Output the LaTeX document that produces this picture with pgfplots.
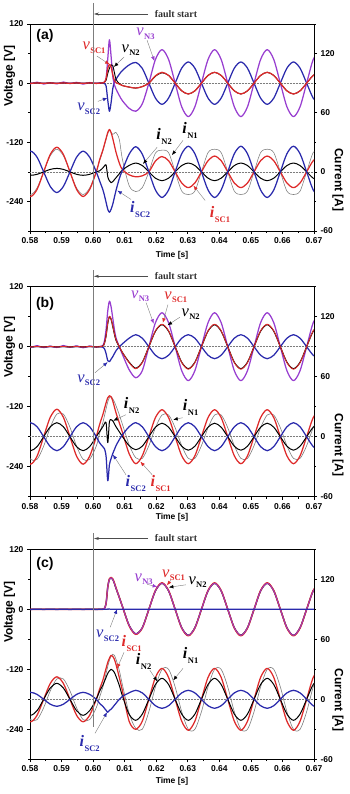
\documentclass[border=0pt]{standalone}
\usepackage{pgfplots}
\pgfplotsset{compat=1.18}
\usepackage{pgfplotstable}
\usepackage{fontspec}
\setmainfont{Liberation Sans}
\newfontfamily\lser{Liberation Serif}
\usetikzlibrary{arrows.meta}

\definecolor{cred}{RGB}{222,42,42}
\definecolor{cblue}{RGB}{42,42,172}
\definecolor{cpurp}{RGB}{152,62,208}
\definecolor{cgray}{RGB}{125,125,125}

% curve labels: italic symbol with a small bold subscript
\newcommand{\vlab}[2]{\textcolor{#1}{{\lser\itshape\fontsize{16.5}{16}\selectfont v}\kern0.4pt\raisebox{-3.8pt}{\lser\bfseries\fontsize{8.5}{8}\selectfont #2}}}
\newcommand{\ilab}[2]{\textcolor{#1}{{\lser\bfseries\itshape\fontsize{16}{16}\selectfont i}\kern0.6pt\raisebox{-4.8pt}{\lser\bfseries\fontsize{8.5}{8}\selectfont #2}}}
\newcommand{\pointer}[3]{\draw[cgray, line width=0.4pt, -{Latex[length=4.5pt,width=3.6pt,color=#1]}] #2 -- #3;}
\tikzset{zeroline/.style={cgray, line width=0.5pt, densely dotted}}

% columns: time, v_SC2, v_N3, v_N2, v_SC1, i_N1, i_SC1, i_N2, i_SC2
\pgfplotstableread{
t vSC2 vN3 vN2 vSC1 iN1 iSC1 iN2 iSC2
0.57808 0.4 1.5 0.5 0.5 -16.3 -17.7 -2.5 14.8
0.58017 -0.4 -1.2 -0.5 -0.5 -23 -25 -3.5 21
0.58225 0.4 2.0 0.5 0.5 -16.3 -17.7 -2.5 14.8
0.58433 -0.4 -1.8 -0.5 -0.5 0 0 0 0
0.58642 0.4 1.0 0.5 0.5 16.3 17.7 2.5 -14.8
0.58850 -0.4 -1.5 -0.5 -0.5 23 25 3.5 -21
0.59058 0.4 2.2 0.5 0.5 16.3 17.7 2.5 -14.8
0.59267 -0.4 -1.0 -0.5 -0.5 0 0 0 0
0.59475 0.4 1.6 0.5 0.5 -16.3 -17.7 -2.5 14.8
0.59683 -0.4 -2.0 -0.5 -0.5 -23 -25 -3.5 21
0.59892 0.4 1.2 0.5 0.5 -16.3 -17.7 -2.5 14.8
0.60100 -0.4 -0.8 -0.5 -0.5 0 0 0 0
0.60204 0 0.5 0 0 11 12 1 -9
0.60308 0 1 0.5 0.5 21 22 4 -18
0.60360 -1 2 2 2 27 28 6 -24
0.60412 -6 10 6 10 33 34 7 -31
0.60465 -35 50 20 30 39 40 -5 -38
0.60517 -57 88 30 38 42 43 -9 -41
0.60569 -40 55 37 33 40 40 -11 -38
0.60621 -12 15 36 18 38 34 -10 -33
0.60673 2 -3 22 6 39 27 -8 -26
0.60725 8 -12 8 1 40 20 -6 -19
0.60829 18 -25 -1 -2 33 9 -2 -7
0.60933 26 -36 -5 -5 12 2 2 2
0.61142 37 -51 -8 -8 -14 -3 6.5 18
0.61350 42 -57 -10 -10 -20 -5 9 25.5
0.61558 30 -42 -7 -7 -16 -4 6.4 18
0.61767 0 0 0 0 0 0 0 0
0.61975 -30.4 48 14 15 19 11 -6.4 -18.4
0.62183 -43 68 21 22 22 15.5 -9 -26
0.62392 -30.4 48 15.6 15.6 19.5 11.3 -6.4 -18.4
0.62600 0 0 0 0 0 0 0 0
0.62808 30.4 -48 -15.6 -15.6 -19.5 -11.3 6.4 18.4
0.63017 43 -68 -22 -22 -23 -16 9 26
0.63225 30.4 -48 -15.6 -15.6 -19.5 -11.3 6.4 18.4
0.63433 0 0 0 0 0 0 0 0
0.63642 -30.4 48 15.6 15.6 19.5 11.3 -6.4 -18.4
0.63850 -43 68 22 22 23 16 -9 -26
0.64058 -30.4 48 15.6 15.6 19.5 11.3 -6.4 -18.4
0.64267 0 0 0 0 0 0 0 0
0.64475 30.4 -48 -15.6 -15.6 -19.5 -11.3 6.4 18.4
0.64683 43 -68 -22 -22 -23 -16 9 26
0.64892 30.4 -48 -15.6 -15.6 -19.5 -11.3 6.4 18.4
0.65100 0 0 0 0 0 0 0 0
0.65308 -30.4 48 15.6 15.6 19.5 11.3 -6.4 -18.4
0.65517 -43 68 22 22 23 16 -9 -26
0.65725 -30.4 48 15.6 15.6 19.5 11.3 -6.4 -18.4
0.65933 0 0 0 0 0 0 0 0
0.66142 30.4 -48 -15.6 -15.6 -19.5 -11.3 6.4 18.4
0.66350 43 -68 -22 -22 -23 -16 9 26
0.66558 30.4 -48 -15.6 -15.6 -19.5 -11.3 6.4 18.4
0.66767 0 0 0 0 0 0 0 0
0.66975 -30.4 48 15.6 15.6 19.5 11.3 -6.4 -18.4
0.67183 -43 68 22 22 23 16 -9 -26
}\tabA

\pgfplotstableread{
t vSC2 vN3 vN2 vSC1 iN1 iSC1 iN2 iSC2
0.57808 0.4 1.5 0.5 0.5 -9.4 -19.4 -9.9 9.9
0.58017 -0.4 -1.2 -0.5 -0.5 -22.6 -27.5 -14 14
0.58225 0.4 2.0 0.5 0.5 -22.6 -19.4 -9.9 9.9
0.58433 -0.4 -1.8 -0.5 -0.5 -9.4 0 0 0
0.58642 0.4 1.0 0.5 0.5 9.4 19.4 9.9 -9.9
0.58850 -0.4 -1.5 -0.5 -0.5 22.6 27.5 14 -14
0.59058 0.4 2.2 0.5 0.5 22.6 19.4 9.9 -9.9
0.59267 -0.4 -1.0 -0.5 -0.5 9.4 0 0 0
0.59475 0.4 1.6 0.5 0.5 -9.4 -19.4 -9.9 9.9
0.59683 -0.4 -2.0 -0.5 -0.5 -22.6 -27.5 -14 14
0.59892 0.4 1.2 0.5 0.5 -22.6 -19.4 -9.9 9.9
0.60100 -0.4 -0.8 -0.5 -0.5 -9.4 0 0 0
0.60204 0 0.5 0 0 3 12 5 -6
0.60308 -1 2 1 1 14 22 10 -10
0.60360 -4 12 7 7 21 28 13 -12
0.60412 -14 35 22 22 28 34 14 -20
0.60465 -28 72 47 48 35 39 -6 -44
0.60517 -30 91 60 61 39 41 15 -28
0.60569 -25 80 55 56 40 40 17 -22
0.60621 -20 58 41 42 38 36 16 -17
0.60673 -14 35 26 27 35 30 13 -13
0.60725 -8 18 13 14 31 24 10 -9
0.60829 0 0 0 0 22 14 5 -3
0.60933 6 -16 -12 -12 12 4 0 2
0.61142 17 -46 -31 -32 -8 -17 -9 10
0.61350 24 -62 -43 -44 -21 -27 -13 14
0.61558 17 -48 -31.1 -31.8 -21.7 -19.1 -9.5 9.9
0.61767 0 0 0 0 -9 0 0 0
0.61975 -17 48 31.1 31.8 9 19.1 9.5 -9.9
0.62183 -24 68 44 45 21.7 27 13.5 -14
0.62392 -17 48 31.1 31.8 21.7 19.1 9.5 -9.9
0.62600 0 0 0 0 9 0 0 0
0.62808 17 -48 -31.1 -31.8 -9 -19.1 -9.5 9.9
0.63017 24 -68 -44 -45 -21.7 -27 -13.5 14
0.63225 17 -48 -31.1 -31.8 -21.7 -19.1 -9.5 9.9
0.63433 0 0 0 0 -9 0 0 0
0.63642 -17 48 31.1 31.8 9 19.1 9.5 -9.9
0.63850 -24 68 44 45 21.7 27 13.5 -14
0.64058 -17 48 31.1 31.8 21.7 19.1 9.5 -9.9
0.64267 0 0 0 0 9 0 0 0
0.64475 17 -48 -31.1 -31.8 -9 -19.1 -9.5 9.9
0.64683 24 -68 -44 -45 -21.7 -27 -13.5 14
0.64892 17 -48 -31.1 -31.8 -21.7 -19.1 -9.5 9.9
0.65100 0 0 0 0 -9 0 0 0
0.65308 -17 48 31.1 31.8 9 19.1 9.5 -9.9
0.65517 -24 68 44 45 21.7 27 13.5 -14
0.65725 -17 48 31.1 31.8 21.7 19.1 9.5 -9.9
0.65933 0 0 0 0 9 0 0 0
0.66142 17 -48 -31.1 -31.8 -9 -19.1 -9.5 9.9
0.66350 24 -68 -44 -45 -21.7 -27 -13.5 14
0.66558 17 -48 -31.1 -31.8 -21.7 -19.1 -9.5 9.9
0.66767 0 0 0 0 -9 0 0 0
0.66975 -17 48 31.1 31.8 9 19.1 9.5 -9.9
0.67183 -24 68 44 45 21.7 27 13.5 -14
}\tabB

\pgfplotstableread{
t vSC2 vN3 vN2 vSC1 iN1 iSC1 iN2 iSC2
0.57808 0.3 0 0 0 -8.4 -15.9 -11.3 4.9
0.58017 -0.3 0 0 0 -20.3 -22.5 -16 7
0.58225 0.3 0 0 0 -20.3 -15.9 -11.3 4.9
0.58433 -0.3 0 0 0 -8.4 0 0 0
0.58642 0.3 0 0 0 8.4 15.9 11.3 -4.9
0.58850 -0.3 0 0 0 20.3 22.5 16 -7
0.59058 0.3 0 0 0 20.3 15.9 11.3 -4.9
0.59267 -0.3 0 0 0 8.4 0 0 0
0.59475 0.3 0 0 0 -8.4 -15.9 -11.3 4.9
0.59683 -0.3 0 0 0 -20.3 -22.5 -16 7
0.59892 0.3 0 0 0 -20.3 -15.9 -11.3 4.9
0.60100 -0.3 0 0 0 -8.4 0 0 0
0.60204 0 0 0 0 2 10 8 -4
0.60308 0 0 0 0 12 19 14 -7
0.60360 0 2 2 2 19 25 18 -9
0.60412 0 12 12 12 26 31 22 -11
0.60465 0.5 45 45 45 33 37 26 -13
0.60517 0.5 60 60 61 39 41 28.5 -11
0.60569 0 63 63 64 43 44 30 -10
0.60621 0 60 60 61 45 43 29 -8
0.60673 0 52 52 53 44 40 27 -6
0.60725 0 42 42 43 40 35 23 -4
0.60829 0 24 24 24 29 22 14 0
0.60933 0 5 5 5 14 8 3 3
0.61142 0 -32 -32 -33 -14 -22 -15 6.5
0.61350 0 -49 -49 -50 -29 -30 -21 9
0.61558 0 -36.8 -36.8 -37.5 -30 -21.9 -14.8 6.4
0.61767 0 0 0 0 -12.4 0 0 0
0.61975 0 36.8 36.8 37.5 12.4 21.9 14.8 -6.4
0.62183 0 52 52 53 30 31 21 -9
0.62392 0 36.8 36.8 37.5 30 21.9 14.8 -6.4
0.62600 0 0 0 0 12.4 0 0 0
0.62808 0 -36.8 -36.8 -37.5 -12.4 -21.9 -14.8 6.4
0.63017 0 -52 -52 -53 -30 -31 -21 9
0.63225 0 -36.8 -36.8 -37.5 -30 -21.9 -14.8 6.4
0.63433 0 0 0 0 -12.4 0 0 0
0.63642 0 36.8 36.8 37.5 12.4 21.9 14.8 -6.4
0.63850 0 52 52 53 30 31 21 -9
0.64058 0 36.8 36.8 37.5 30 21.9 14.8 -6.4
0.64267 0 0 0 0 12.4 0 0 0
0.64475 0 -36.8 -36.8 -37.5 -12.4 -21.9 -14.8 6.4
0.64683 0 -52 -52 -53 -30 -31 -21 9
0.64892 0 -36.8 -36.8 -37.5 -30 -21.9 -14.8 6.4
0.65100 0 0 0 0 -12.4 0 0 0
0.65308 0 36.8 36.8 37.5 12.4 21.9 14.8 -6.4
0.65517 0 52 52 53 30 31 21 -9
0.65725 0 36.8 36.8 37.5 30 21.9 14.8 -6.4
0.65933 0 0 0 0 12.4 0 0 0
0.66142 0 -36.8 -36.8 -37.5 -12.4 -21.9 -14.8 6.4
0.66350 0 -52 -52 -53 -30 -31 -21 9
0.66558 0 -36.8 -36.8 -37.5 -30 -21.9 -14.8 6.4
0.66767 0 0 0 0 -12.4 0 0 0
0.66975 0 36.8 36.8 37.5 12.4 21.9 14.8 -6.4
0.67183 0 52 52 53 30 31 21 -9
}\tabC

\pgfplotsset{
  panelbase/.style={scale only axis, width=284pt, xmin=0.58, xmax=0.67,
    tick align=outside, major tick length=3pt, minor tick length=1.8pt,
    tick label style={font=\bfseries\fontsize{8.5}{10}\selectfont},
    /pgf/number format/assume math mode=true,
    axis line style={line width=0.7pt},
    every tick/.append style={line width=0.6pt, black}},
  vaxis/.style={panelbase, ymin=-300, ymax=120, tick pos=left,
    xtick={0.58,0.59,0.60,0.61,0.62,0.63,0.64,0.65,0.66,0.67},
    xticklabels={0.58,0.59,0.60,0.61,0.62,0.63,0.64,0.65,0.66,0.67},
    minor xtick={0.585,0.595,0.605,0.615,0.625,0.635,0.645,0.655,0.665},
    ytick={-240,-120,0,120}, yticklabels={-240,-120,0,120},
    minor ytick={-300,-180,-60,60}},
  iaxis/.style={panelbase, ymin=-60, ymax=150, axis y line*=right, axis x line=none,
    ytick={-60,0,60,120}, yticklabels={-60,0,60,120},
    minor ytick={-30,30,90,150}},
  cv/.style={smooth, line width=1.25pt, line join=round},
}

\begin{document}
\begin{tikzpicture}
\path[use as bounding box] (0pt,0pt) rectangle (349pt,-794pt);

% ---------------- panel (a) ----------------
\begin{axis}[vaxis, at={(30pt,-231pt)}, anchor=south west, height=207pt]
  \draw[zeroline] (axis cs:0.58,0) -- (axis cs:0.67,0);
  \addplot[cv, cblue] table[x=t, y=vSC2] {\tabA};
  \addplot[cv, cpurp] table[x=t, y=vN3] {\tabA};
  \addplot[cv, black, line width=0.9pt] table[x=t, y=vN2] {\tabA};
  \addplot[cv, cred] table[x=t, y=vSC1] {\tabA};
  \node at (axis cs:0.6003,71) {\vlab{cred}{SC1}};
  \pointer{cred}{(axis cs:0.6012,55)}{(axis cs:0.6052,38)}
  \node at (axis cs:0.6119,67) {\vlab{black}{N2}};
  \pointer{black}{(axis cs:0.6098,53)}{(axis cs:0.6066,33)}
  \node at (axis cs:0.6166,100) {\vlab{cpurp}{N3}};
  \pointer{cpurp}{(axis cs:0.6171,87)}{(axis cs:0.6194,45)}
  \node at (axis cs:0.5986,-52) {\vlab{cblue}{SC2}};
  \pointer{cblue}{(axis cs:0.6015,-37)}{(axis cs:0.6045,-30)}
\end{axis}
\begin{axis}[iaxis, at={(30pt,-231pt)}, anchor=south west, height=207pt]
  \draw[zeroline] (axis cs:0.58,0) -- (axis cs:0.67,0);
  \addplot[smooth, cgray, line width=0.55pt] table[x=t, y=iN1] {\tabA};
  \addplot[cv, cred] table[x=t, y=iSC1] {\tabA};
  \addplot[cv, black, line width=1pt] table[x=t, y=iN2] {\tabA};
  \addplot[cv, cblue] table[x=t, y=iSC2] {\tabA};
  \node at (axis cs:0.6225,36) {\ilab{black}{N2}};
  \pointer{black}{(axis cs:0.6203,25)}{(axis cs:0.6158,8)}
  \node at (axis cs:0.6307,42) {\ilab{black}{N1}};
  \pointer{black}{(axis cs:0.6285,32)}{(axis cs:0.6250,17)}
  \node at (axis cs:0.6149,-38) {\ilab{cblue}{SC2}};
  \pointer{cblue}{(axis cs:0.6120,-28)}{(axis cs:0.6077,-19)}
  \node at (axis cs:0.6402,-43) {\ilab{cred}{SC1}};
  \pointer{cred}{(axis cs:0.6355,-29)}{(axis cs:0.6318,-14)}
\end{axis}

% ---------------- panel (b) ----------------
\begin{axis}[vaxis, at={(30pt,-496.7pt)}, anchor=south west, height=210pt]
  \draw[zeroline] (axis cs:0.58,0) -- (axis cs:0.67,0);
  \addplot[cv, cblue] table[x=t, y=vSC2] {\tabB};
  \addplot[cv, cpurp] table[x=t, y=vN3] {\tabB};
  \addplot[cv, black, line width=1.1pt] table[x=t, y=vN2] {\tabB};
  \addplot[cv, cred, line width=0.9pt] table[x=t, y=vSC1] {\tabB};
  \node at (axis cs:0.6149,101) {\vlab{cpurp}{N3}};
  \pointer{cpurp}{(axis cs:0.6168,88)}{(axis cs:0.6192,46)}
  \node at (axis cs:0.6262,99) {\vlab{cred}{SC1}};
  \pointer{cred}{(axis cs:0.6237,84)}{(axis cs:0.6221,48)}
  \node at (axis cs:0.6309,65) {\vlab{black}{N2}};
  \pointer{black}{(axis cs:0.6275,59)}{(axis cs:0.6236,43)}
  \node at (axis cs:0.5986,-67) {\vlab{cblue}{SC2}};
  \pointer{cblue}{(axis cs:0.6006,-52)}{(axis cs:0.6046,-31)}
\end{axis}
\begin{axis}[iaxis, at={(30pt,-496.7pt)}, anchor=south west, height=210pt]
  \draw[zeroline] (axis cs:0.58,0) -- (axis cs:0.67,0);
  \addplot[smooth, cgray, line width=0.6pt] table[x=t, y=iN1] {\tabB};
  \addplot[cv, cred] table[x=t, y=iSC1] {\tabB};
  \addplot[cv, black, line width=1pt] table[x=t, y=iN2] {\tabB};
  \addplot[cv, cblue] table[x=t, y=iSC2] {\tabB};
  \node at (axis cs:0.6122,31) {\ilab{black}{N2}};
  \pointer{black}{(axis cs:0.6104,22)}{(axis cs:0.6064,16)}
  \node at (axis cs:0.6309,29) {\ilab{black}{N1}};
  \pointer{black}{(axis cs:0.6284,19)}{(axis cs:0.6254,17)}
  \node at (axis cs:0.6135,-47) {\ilab{cblue}{SC2}};
  \pointer{cblue}{(axis cs:0.6104,-38)}{(axis cs:0.6063,-18)}
  \node at (axis cs:0.6214,-47) {\ilab{cred}{SC1}};
  \pointer{cred}{(axis cs:0.6187,-38)}{(axis cs:0.6150,-25)}
\end{axis}

% ---------------- panel (c) ----------------
\begin{axis}[vaxis, at={(30pt,-759.3pt)}, anchor=south west, height=210pt]
  \draw[zeroline] (axis cs:0.58,0) -- (axis cs:0.67,0);
  \addplot[cv, black] table[x=t, y=vN2] {\tabC};
  \addplot[cv, cred, line width=1.5pt] table[x=t, y=vSC1] {\tabC};
  \addplot[cv, cpurp, line width=1pt, opacity=0.85] table[x=t, y=vN3] {\tabC};
  \addplot[cv, cblue] table[x=t, y=vSC2] {\tabC};
  \node at (axis cs:0.6160,60) {\vlab{cpurp}{N3}};
  \pointer{cpurp}{(axis cs:0.6171,50)}{(axis cs:0.6203,45)}
  \node at (axis cs:0.6255,68) {\vlab{cred}{SC1}};
  \pointer{cred}{(axis cs:0.6246,58)}{(axis cs:0.6234,48)}
  \node at (axis cs:0.6331,54) {\vlab{black}{N2}};
  \pointer{black}{(axis cs:0.6294,49)}{(axis cs:0.6240,44)}
  \node at (axis cs:0.6046,-53) {\vlab{cblue}{SC2}};
  \pointer{cblue}{(axis cs:0.6054,-36)}{(axis cs:0.6076,0)}
\end{axis}
\begin{axis}[iaxis, at={(30pt,-759.3pt)}, anchor=south west, height=210pt]
  \draw[zeroline] (axis cs:0.58,0) -- (axis cs:0.67,0);
  \addplot[smooth, cgray, line width=0.6pt] table[x=t, y=iN1] {\tabC};
  \addplot[cv, cred] table[x=t, y=iSC1] {\tabC};
  \addplot[cv, black, line width=1pt] table[x=t, y=iN2] {\tabC};
  \addplot[cv, cblue] table[x=t, y=iSC2] {\tabC};
  \node at (axis cs:0.6122,56) {\ilab{cred}{SC1}};
  \pointer{cred}{(axis cs:0.6098,47)}{(axis cs:0.6076,31)}
  \node at (axis cs:0.6160,38) {\ilab{black}{N2}};
  \pointer{black}{(axis cs:0.6180,29)}{(axis cs:0.6203,18)}
  \node at (axis cs:0.6309,44) {\ilab{black}{N1}};
  \pointer{black}{(axis cs:0.6285,31)}{(axis cs:0.6254,19)}
  \node at (axis cs:0.5989,-44) {\ilab{cblue}{SC2}};
  \pointer{cblue}{(axis cs:0.6006,-34)}{(axis cs:0.6044,-13)}
\end{axis}

% ---------------- axis titles, panel tags and fault markers ----------------
\foreach \yt/\yv/\yc/\yl/\ya/\ytop/\ybot/\tag in {
    255.5/76/180/36/14/3/231/a,
    517/347/445/304/276.3/270/496.7/b,
    781.7/612/700/563.5/538.5/533.3/726.7/c} {
  \node[font=\bfseries\fontsize{8.5}{10}\selectfont] at (172pt,-\yt pt) {Time [s]};
  \node[font=\bfseries\fontsize{12}{14}\selectfont, rotate=90] at (9.5pt,-\yv pt) {Voltage [V]};
  \node[font=\bfseries\fontsize{12}{14}\selectfont, rotate=-90] at (338pt,-\yc pt) {Current [A]};
  \node[font=\bfseries\fontsize{14}{16}\selectfont] at (45pt,-\yl pt) {(\tag)};
  \draw[cgray, line width=0.6pt] (93.1pt,-\ytop pt) -- (93.1pt,-\ybot pt);
  \draw[black!70, line width=0.5pt, -{Stealth[length=5pt,width=3pt]}] (148pt,-\ya pt) -- (94pt,-\ya pt);
  \node[font=\lser\bfseries\fontsize{10}{12}\selectfont, text=black!80] at (176pt,-\ya pt) {fault start};
}
\end{tikzpicture}
\end{document}
